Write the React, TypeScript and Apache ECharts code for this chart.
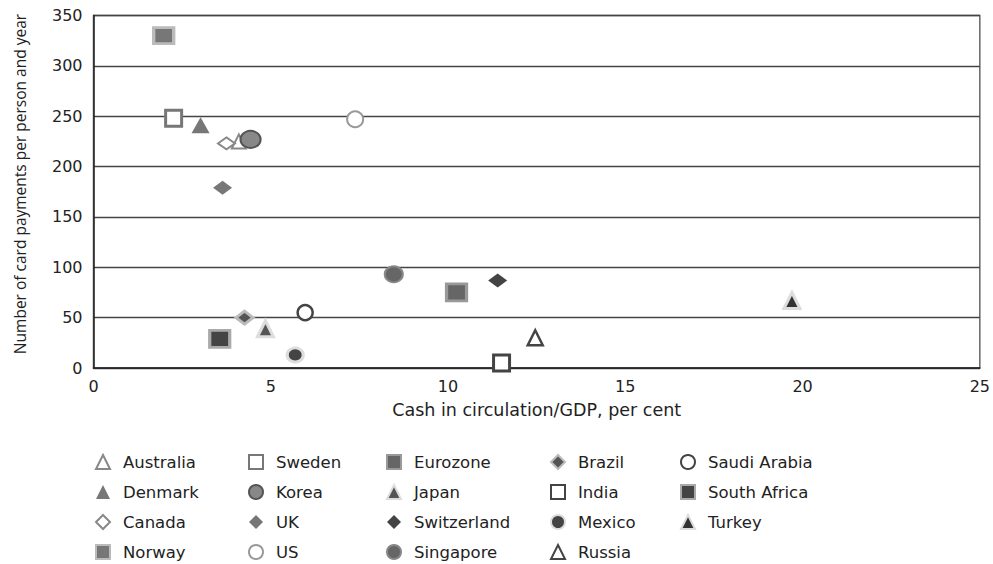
import React, { useEffect, useRef } from "react";
import * as echarts from "echarts";

// ---- data ----
const countries = [
  "Australia", "Sweden", "Eurozone", "Brazil", "Saudi Arabia",
  "Denmark", "Korea", "Japan", "India", "South Africa",
  "Canada", "UK", "Switzerland", "Mexico", "Turkey",
  "Norway", "US", "Singapore", "Russia",
];
// Cash in circulation / GDP, per cent
const cashToGdp = [
  4.1, 2.26, 10.24, 4.26, 5.97,
  3.02, 4.43, 4.85, 11.51, 3.56,
  3.75, 3.64, 11.4, 5.69, 19.7,
  1.98, 7.38, 8.47, 12.46,
];
// Number of card payments per person and year
const cardPayments = [
  225, 248, 75, 50, 55,
  241, 227, 39, 5, 29,
  223, 179, 87, 13, 67,
  330, 247, 93, 30,
];
const xTicks = [0, 5, 10, 15, 20, 25];
const yTicks = [0, 50, 100, 150, 200, 250, 300, 350];

const legendColumns = [
  ["Australia", "Denmark", "Canada", "Norway"],
  ["Sweden", "Korea", "UK", "US"],
  ["Eurozone", "Japan", "Switzerland", "Singapore"],
  ["Brazil", "India", "Mexico", "Russia"],
  ["Saudi Arabia", "South Africa", "Turkey"],
];

// ---- styles ----
type Sty = { symbol: string; size: number | number[]; color: string; border?: string; bw?: number };
const styles: Record<string, Sty> = {
  Australia: { symbol: "triangle", size: 14, color: "#ffffff", border: "#888888", bw: 2 },
  Sweden: { symbol: "rect", size: 16, color: "#ffffff", border: "#777777", bw: 3 },
  Eurozone: { symbol: "rect", size: [20, 17], color: "#666666", border: "#999999", bw: 3 },
  Brazil: { symbol: "diamond", size: [17, 13], color: "#555555", border: "#bbbbbb", bw: 3 },
  "Saudi Arabia": { symbol: "circle", size: 15, color: "#ffffff", border: "#444444", bw: 2.5 },
  Denmark: { symbol: "triangle", size: [18, 16], color: "#777777" },
  Korea: { symbol: "circle", size: [20, 17], color: "#888888", border: "#555555", bw: 2 },
  Japan: { symbol: "triangle", size: 16, color: "#555555", border: "#dddddd", bw: 3 },
  India: { symbol: "rect", size: 16, color: "#ffffff", border: "#444444", bw: 3 },
  "South Africa": { symbol: "rect", size: [20, 17], color: "#444444", border: "#aaaaaa", bw: 3 },
  Canada: { symbol: "diamond", size: [17, 12], color: "#ffffff", border: "#888888", bw: 2 },
  UK: { symbol: "diamond", size: [19, 14], color: "#777777" },
  Switzerland: { symbol: "diamond", size: [19, 14], color: "#444444" },
  Mexico: { symbol: "circle", size: [16, 14], color: "#444444", border: "#dddddd", bw: 3 },
  Turkey: { symbol: "triangle", size: 16, color: "#333333", border: "#dddddd", bw: 3 },
  Norway: { symbol: "rect", size: [20, 16], color: "#777777", border: "#bbbbbb", bw: 3 },
  US: { symbol: "circle", size: 16, color: "#ffffff", border: "#999999", bw: 2 },
  Singapore: { symbol: "circle", size: [18, 16], color: "#666666", border: "#888888", bw: 2 },
  Russia: { symbol: "triangle", size: 15, color: "#ffffff", border: "#444444", bw: 2.5 },
};

const FONT = "'DejaVu Sans', 'Open Sans', sans-serif";
const legendLefts = [95, 248, 386, 550, 680];

export default function App() {
  const ref = useRef<HTMLDivElement>(null);
  useEffect(() => {
    document.body.style.margin = "0";
    if (!ref.current) return;
    const chart = echarts.init(ref.current, null, { renderer: "svg" });
    const series = countries.map((name, i) => {
      const s = styles[name];
      return {
        name,
        type: "scatter",
        symbol: s.symbol,
        symbolSize: s.size,
        itemStyle: {
          color: s.color,
          borderColor: s.border || s.color,
          borderWidth: s.bw || 0,
          opacity: 1,
        },
        data: [[cashToGdp[i], cardPayments[i]]],
        z: 3,
      };
    });
    const legends = legendColumns.map((col, k) => ({
      data: col,
      orient: "vertical",
      left: legendLefts[k],
      top: 453.5,
      itemWidth: 14,
      itemHeight: 14,
      itemGap: 13,
      selectedMode: false,
      padding: 0,
      textStyle: {
        fontFamily: FONT,
        fontSize: 16.5,
        lineHeight: 17,
        color: "#222222",
        padding: [0, 0, 0, 8],
      },
    }));
    chart.setOption({
      animation: false,
      backgroundColor: "#ffffff",
      grid: {
        left: 93.5,
        right: 10,
        top: 15.5,
        bottom: 196,
        show: true,
        borderColor: "#666666",
        borderWidth: 1.5,
      },
      xAxis: {
        type: "value",
        min: xTicks[0],
        max: xTicks[xTicks.length - 1],
        interval: 5,
        name: "Cash in circulation/GDP, per cent",
        nameLocation: "middle",
        nameGap: 33,
        nameTextStyle: { fontFamily: FONT, fontSize: 17.5, color: "#222222" },
        axisLine: { show: true, lineStyle: { color: "#222222", width: 1.5 } },
        axisTick: { show: false },
        splitLine: { show: false },
        axisLabel: { fontFamily: FONT, fontSize: 16, color: "#222222", margin: 10 },
      },
      yAxis: {
        type: "value",
        min: yTicks[0],
        max: yTicks[yTicks.length - 1],
        interval: 50,
        axisLine: { show: true, lineStyle: { color: "#222222", width: 1.5 } },
        axisTick: { show: false },
        splitLine: { show: true, lineStyle: { color: "#444444", width: 1.3 } },
        axisLabel: { fontFamily: FONT, fontSize: 16, color: "#222222", margin: 11 },
      },
      legend: legends,
      graphic: [
        {
          type: "text",
          x: 20,
          y: 184,
          rotation: Math.PI / 2,
          style: {
            text: "Number of card payments per person and year",
            fontFamily: "'Open Sans', sans-serif",
            fontSize: 15.5,
            fill: "#222222",
            align: "center",
            verticalAlign: "middle",
          },
        },
      ],
      series,
    });
    return () => chart.dispose();
  }, []);
  return <div ref={ref} style={{ width: 993, height: 564 }} />;
}
